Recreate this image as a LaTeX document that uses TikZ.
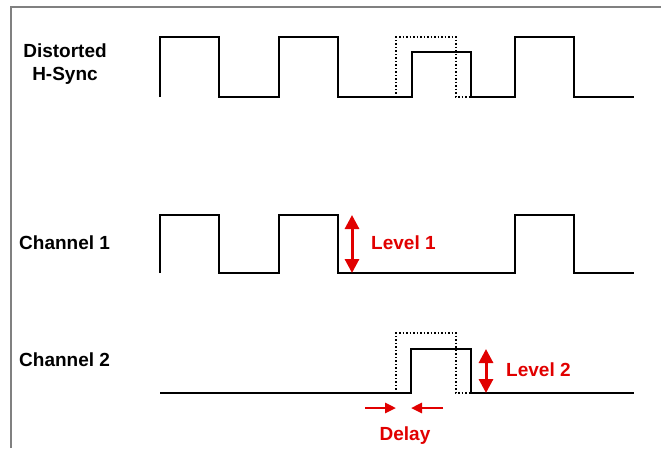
\documentclass[tikz,border=0pt]{standalone}
\usepackage{fontspec}
\setmainfont{Liberation Sans}
\usetikzlibrary{positioning,arrows.meta}
\definecolor{sigred}{RGB}{225,0,0}
\definecolor{frame}{RGB}{128,128,128}
\tikzset{
  >={Triangle},
  sig/.style   ={line width=2.2pt, line join=miter},
  ghost/.style ={line width=1.5pt, dotted},
  lvl/.style   ={line width=3pt, sigred, {Triangle[length=14pt,width=14pt]}-{Triangle[length=14pt,width=14pt]}},
  shiftarr/.style ={line width=2.6pt, sigred, -{Triangle[length=11pt,width=10pt]}},
  lbl/.style   ={font=\bfseries\fontsize{19}{23}\selectfont, inner sep=0pt},
}

\begin{document}
\begin{tikzpicture}[x=1pt,y=-1pt]
  \useasboundingbox (0,0) rectangle (661,448);
  \draw[frame, line width=1.5pt] (11,448) -- (11,7) -- (661,7);

  % distorted h-sync
  \node[lbl, align=center] (hsync) at (65,64) {Distorted\\H-Sync};
  \draw[sig] (160,97) -- (160,37) -- (219,37) -- (219,97) -- (279,97) -- (279,37)
    -- (338,37) -- (338,97) -- (412,97) -- (412,52) -- (471,52) -- (471,97)
    -- (515,97) -- (515,37) -- (574,37) -- (574,97) -- (634,97);
  \draw[ghost] (396,97) -- (396,37) -- (456,37) -- (456,97) -- (471,97);

  % channel 1
  \node[lbl, anchor=west] (ch1) at (19,243) {Channel 1};
  \draw[sig] (160,273) -- (160,215) -- (219,215) -- (219,273) -- (279,273) -- (279,215)
    -- (338,215) -- (338,273) -- (515,273) -- (515,215) -- (574,215) -- (574,273) -- (634,273);
  \coordinate (l1top) at (352,215);
  \coordinate (l1bot) at (352,273);
  \draw[lvl] (l1top) -- (l1bot);
  \node[lbl, sigred, anchor=west] (lev1) at (371,243) {Level 1};

  % channel 2
  \node[lbl, anchor=west] (ch2) at (19,360) {Channel 2};
  \draw[sig] (160,393) -- (411,393) -- (411,349) -- (471,349) -- (471,393) -- (634,393);
  \draw[ghost] (396,393) -- (396,333) -- (456,333) -- (456,393) -- (471,393);
  \coordinate (l2top) at (486,349);
  \coordinate (l2bot) at (486,393);
  \draw[lvl] (l2top) -- (l2bot);
  \node[lbl, sigred, anchor=west] (lev2) at (506,370) {Level 2};

  % delay
  \coordinate (dla) at (365,408);
  \coordinate (dlb) at (396,408);
  \coordinate (dlc) at (443,408);
  \coordinate (dld) at (411,408);
  \draw[shiftarr] (dla) -- (dlb);
  \draw[shiftarr] (dlc) -- (dld);
  \node[lbl, sigred] (delay) at (405,436) {Delay};
\end{tikzpicture}
\end{document}
